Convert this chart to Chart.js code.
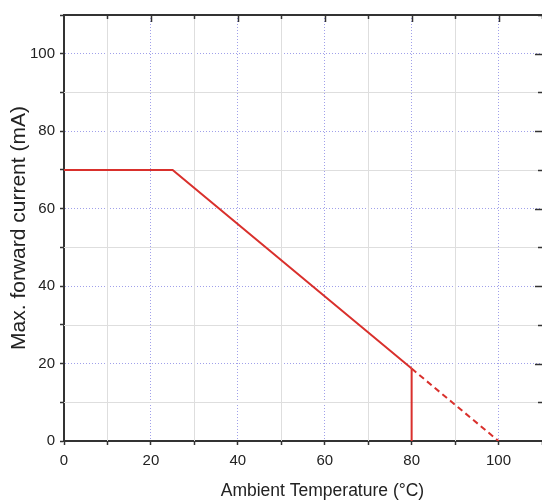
<!DOCTYPE html>
<html>
<head>
<meta charset="utf-8">
<script src="https://cdn.jsdelivr.net/npm/chart.js@4/dist/chart.umd.min.js"></script>
<style>
  html, body { margin: 0; padding: 0; background: #ffffff; }
  #wrap { width: 542px; height: 503px; }
</style>
</head>
<body>
<div id="wrap"><canvas id="c" width="542" height="503"></canvas></div>
<script>
// ---- data ----
const tempSolid = [0, 25, 80];
const currentSolid = [70, 70, 18.7];
const tempDashed = [80, 100];
const currentDashed = [18.7, 0];
const tempCutoff = [80, 80];
const currentCutoff = [18.7, 0];

const xTickLabels = [0, 20, 40, 60, 80, 100];
const yTickLabels = [0, 20, 40, 60, 80, 100];

const xTitle = 'Ambient Temperature (°C)';
const yTitle = 'Max. forward current (mA)';

const toPoints = (xs, ys) => xs.map((v, i) => ({ x: v, y: ys[i] }));

const RED = '#d9302c';
const MAJOR_GRID = 'rgba(120,120,225,0.7)';
const MINOR_GRID = '#dedede';
const AXIS = '#333333';

const framePlugin = {
  id: 'frame',
  beforeDatasetsDraw(chart) {
    const { ctx, chartArea: a, scales: { x, y } } = chart;
    ctx.save();
    ctx.strokeStyle = MINOR_GRID;
    ctx.lineWidth = 1;
    x.ticks.forEach(t => {
      if (t.value % 20 !== 0) {
        const px = Math.round(x.getPixelForValue(t.value)) + 0.5;
        ctx.beginPath(); ctx.moveTo(px, a.top); ctx.lineTo(px, a.bottom); ctx.stroke();
      }
    });
    y.ticks.forEach(t => {
      if (t.value % 20 !== 0) {
        const py = Math.round(y.getPixelForValue(t.value)) + 0.5;
        ctx.beginPath(); ctx.moveTo(a.left, py); ctx.lineTo(a.right, py); ctx.stroke();
      }
    });
    ctx.restore();
  },
  afterDraw(chart) {
    const { ctx, chartArea: a, scales: { x, y } } = chart;
    ctx.save();
    ctx.strokeStyle = AXIS;
    ctx.lineWidth = 2;
    ctx.beginPath(); ctx.moveTo(a.left - 1, a.top); ctx.lineTo(a.right, a.top); ctx.stroke();
    ctx.beginPath(); ctx.moveTo(a.right + 1, a.top); ctx.lineTo(a.right + 1, a.bottom); ctx.stroke();
    // inward ticks on top and right
    ctx.lineWidth = 1.5;
    x.ticks.forEach(t => {
      if (t.value === 0) return;
      const px = Math.round(x.getPixelForValue(t.value)) + 0.5;
      const len = t.value % 20 === 0 ? 7 : 4;
      ctx.beginPath(); ctx.moveTo(px, a.top); ctx.lineTo(px, a.top + len); ctx.stroke();
    });
    y.ticks.forEach(t => {
      if (t.value === 0) return;
      const py = Math.round(y.getPixelForValue(t.value)) + 0.5;
      const len = t.value % 20 === 0 ? 7 : 4;
      ctx.beginPath(); ctx.moveTo(a.right, py); ctx.lineTo(a.right - len, py); ctx.stroke();
    });
    ctx.restore();
  }
};

new Chart(document.getElementById('c'), {
  type: 'line',
  data: {
    datasets: [
      { data: toPoints(tempSolid, currentSolid), borderColor: RED, borderWidth: 2, pointRadius: 0, tension: 0, fill: false },
      { data: toPoints(tempDashed, currentDashed), borderColor: RED, borderWidth: 2, borderDash: [6, 4], pointRadius: 0, tension: 0, fill: false },
      { data: toPoints(tempCutoff, currentCutoff), borderColor: RED, borderWidth: 2, pointRadius: 0, tension: 0, fill: false }
    ]
  },
  options: {
    responsive: false,
    animation: false,
    devicePixelRatio: 1,
    layout: { padding: { top: 15, right: 0, left: 0, bottom: 0 } },
    plugins: { legend: { display: false }, tooltip: { enabled: false } },
    scales: {
      x: {
        type: 'linear',
        min: 0, max: 110,
        afterFit(scale) { scale.height = 62; scale.paddingRight = 0; scale.paddingLeft = 0; },
        ticks: {
          stepSize: 10, includeBounds: false, autoSkip: false, maxRotation: 0, padding: 7,
          color: '#222', font: { family: '"Liberation Sans", Arial, sans-serif', size: 15 },
          callback: v => xTickLabels.includes(v) ? String(v) : ''
        },
        grid: {
          color: c => (c.tick && c.tick.value % 20 === 0 && c.tick.value !== 0) ? MAJOR_GRID : 'rgba(0,0,0,0)',
          lineWidth: 1,
          tickColor: AXIS, tickLength: 4, tickWidth: 1.5
        },
        border: { color: AXIS, width: 2, dash: [1, 2] },
        title: {
          display: true, text: '        ' + xTitle, color: '#222',
          font: { family: '"Liberation Sans", Arial, sans-serif', size: 17.5 },
          padding: { top: 0, bottom: 1 }
        }
      },
      y: {
        type: 'linear',
        min: 0, max: 110,
        afterFit(scale) { scale.width = 64; },
        ticks: {
          stepSize: 10, includeBounds: false, autoSkip: false, padding: 5,
          color: '#222', font: { family: '"Liberation Sans", Arial, sans-serif', size: 15 },
          callback: v => yTickLabels.includes(v) ? String(v) : ''
        },
        grid: {
          color: c => (c.tick && c.tick.value % 20 === 0 && c.tick.value !== 0) ? MAJOR_GRID : 'rgba(0,0,0,0)',
          lineWidth: 1,
          tickColor: AXIS, tickLength: 4, tickWidth: 1.5
        },
        border: { color: AXIS, width: 2, dash: [1, 2] },
        title: {
          display: true, text: yTitle, color: '#222',
          font: { family: '"Liberation Sans", Arial, sans-serif', size: 21 },
          padding: { top: 7, bottom: 0 }
        }
      }
    }
  },
  plugins: [framePlugin]
});
</script>
</body>
</html>
